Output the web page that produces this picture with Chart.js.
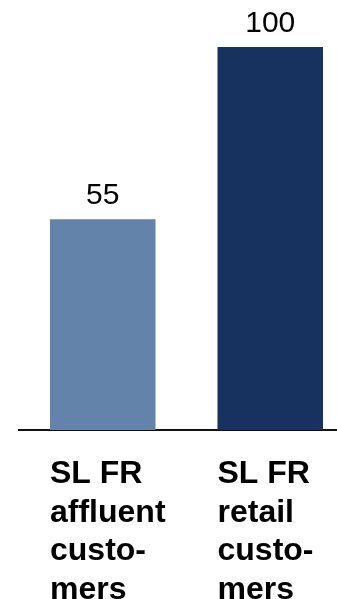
<!DOCTYPE html>
<html>
<head>
<meta charset="utf-8">
<script src="https://cdn.jsdelivr.net/npm/chart.js@4/dist/chart.umd.min.js"></script>
<style>
  html, body { margin: 0; padding: 0; background: #fff; overflow: hidden; }
  #wrap { position: relative; width: 354px; height: 599px; }
</style>
</head>
<body>
<div id="wrap"><canvas id="barChart"></canvas></div>
<script>
// categories and values
const categories = [
  ['SL FR', 'affluent', 'custo-', 'mers'],
  ['SL FR', 'retail', 'custo-', 'mers']
];
const values = [55, 100];
const barColors = ['#6483AB', '#17325F'];

const FONT = "'Liberation Sans', Arial, sans-serif";

// value above each bar, category text left-aligned under each bar
const barLabels = {
  id: 'barLabels',
  afterDatasetsDraw(chart) {
    const ctx = chart.ctx;
    const meta = chart.getDatasetMeta(0);
    const base = chart.scales.y.getPixelForValue(0);
    ctx.save();
    meta.data.forEach((bar, i) => {
      ctx.fillStyle = '#000';
      ctx.font = '30px ' + FONT;
      ctx.textAlign = 'center';
      ctx.textBaseline = 'alphabetic';
      ctx.fillText(String(values[i]), bar.x, bar.y - 15);

      ctx.font = 'bold 32px ' + FONT;
      ctx.textAlign = 'left';
      const left = bar.x - bar.width / 2;
      categories[i].forEach((line, j) => {
        ctx.fillText(line, left, base + 53 + j * 38.5);
      });
    });
    ctx.restore();
  }
};

new Chart(document.getElementById('barChart').getContext('2d'), {
  type: 'bar',
  data: {
    labels: categories.map(c => c.join(' ')),
    datasets: [{
      data: values,
      backgroundColor: barColors,
      borderWidth: 0,
      barPercentage: 0.63,
      categoryPercentage: 1.0
    }]
  },
  options: {
    responsive: true,
    maintainAspectRatio: false,
    animation: false,
    layout: { padding: { top: 47, bottom: 169, left: 19, right: 0 } },
    plugins: {
      legend: { display: false },
      tooltip: { enabled: false }
    },
    scales: {
      x: {
        grid: { display: false, drawTicks: false },
        border: { display: true, color: '#111', width: 2 },
        ticks: { display: false }
      },
      y: {
        display: false,
        min: 0,
        max: 100
      }
    }
  },
  plugins: [barLabels]
});
</script>
</body>
</html>
